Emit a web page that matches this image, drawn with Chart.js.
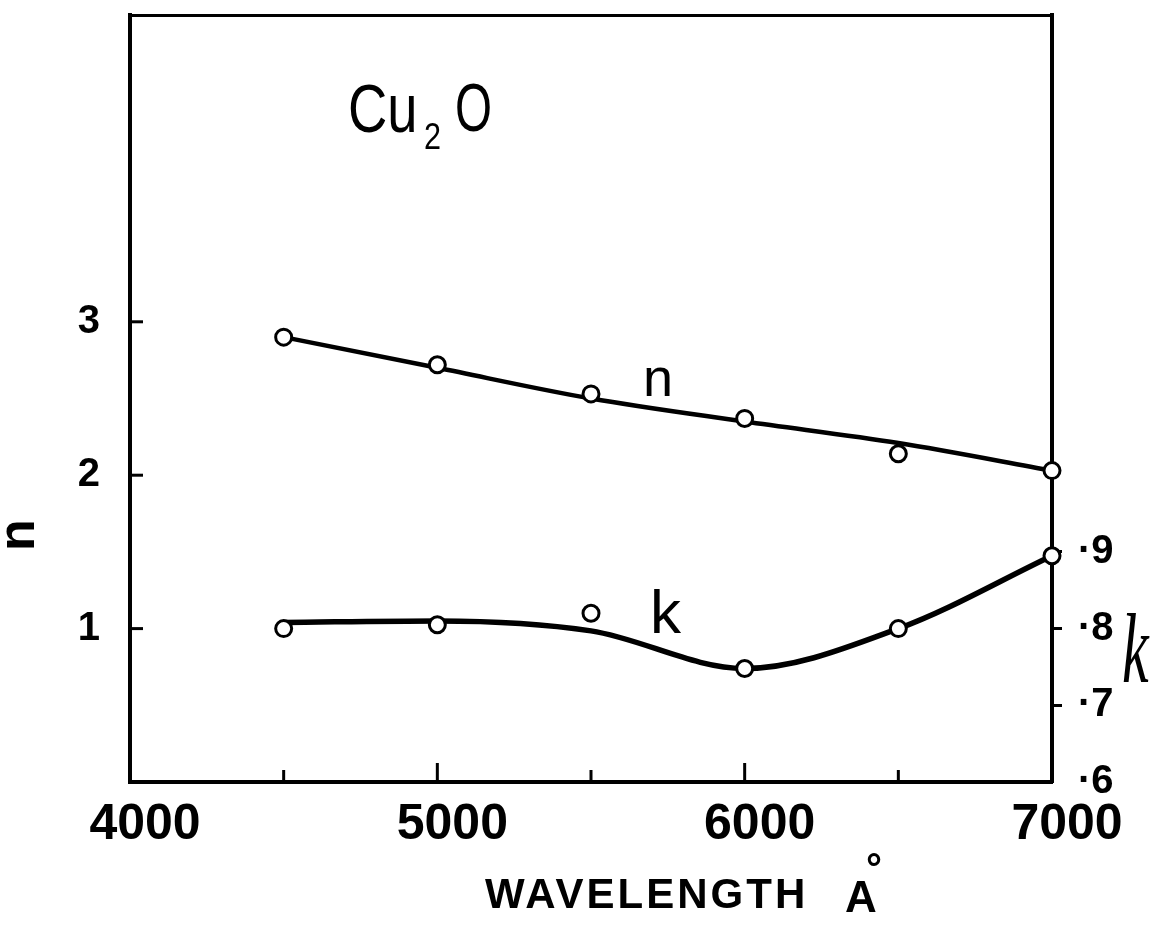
<!DOCTYPE html>
<html>
<head>
<meta charset="utf-8">
<script src="https://cdn.jsdelivr.net/npm/chart.js@4.4.1/dist/chart.umd.min.js"></script>
<style>
  html, body { margin: 0; padding: 0; background: #fff; }
  #wrap { width: 1165px; height: 940px; position: relative; }
</style>
</head>
<body>
<div id="wrap"><canvas id="myChart"></canvas></div>
<script>
// Cu2O : n and k against wavelength (Angstrom)
const wavelengths = [4500, 5000, 5500, 6000, 6500, 7000];
const nMeasured = [2.90, 2.72, 2.53, 2.37, 2.14, 2.03];
const kMeasured = [0.800, 0.805, 0.820, 0.748, 0.800, 0.895];
// the smooth curves drawn through the points
const nCurve = [2.90, 2.70, 2.50, 2.35, 2.21, 2.03];
const kCurve = [0.808, 0.810, 0.797, 0.748, 0.800, 0.895];

const xTickLabels = [4000, 5000, 6000, 7000];
const nTickLabels = [1, 2, 3];
const kTickLabels = [0.6, 0.7, 0.8, 0.9];

const toPoints = ys => wavelengths.map((w, i) => ({x: w, y: ys[i]}));
const near = (list, v) => list.some(t => Math.abs(t - v) < 1e-6);

const FAMILY = '"Liberation Sans", Arial, sans-serif';

const circle = {
    showLine: false,
    pointRadius: 8,
    pointBorderWidth: 3,
    pointBorderColor: '#000',
    pointBackgroundColor: '#fff',
    order: 0,
    clip: false
};
const curve = {
    showLine: true,
    pointRadius: 0,
    borderColor: '#000',
    cubicInterpolationMode: 'monotone',
    order: 1,
    clip: false
};

// fixed box sizes so the frame sits where the drawing has it
const fixSize = (w, h) => s => {
    if (w !== null) s.width = w;
    if (h !== null) s.height = h;
    s.paddingTop = 0;
    s.paddingBottom = 0;
    s.paddingLeft = 0;
    s.paddingRight = 0;
};

// short tick marks that point into the plot (bottom and left axes)
const inwardTicks = {
    id: 'inwardTicks',
    beforeDatasetsDraw(chart) {
        const {ctx, chartArea, scales} = chart;
        ctx.save();
        ctx.strokeStyle = '#000';
        ctx.lineWidth = 3;
        scales.x.ticks.forEach(t => {
            if (t.value <= 4000 || t.value >= 7000) return;
            const px = scales.x.getPixelForValue(t.value);
            const len = t.value % 1000 === 0 ? 19 : 12;
            ctx.beginPath();
            ctx.moveTo(px, chartArea.bottom);
            ctx.lineTo(px, chartArea.bottom - len);
            ctx.stroke();
        });
        nTickLabels.forEach(v => {
            const py = scales.y.getPixelForValue(v);
            ctx.beginPath();
            ctx.moveTo(chartArea.left, py);
            ctx.lineTo(chartArea.left + 13, py);
            ctx.stroke();
        });
        ctx.restore();
    }
};

function drawText(ctx, str, x, y, font, sx) {
    ctx.save();
    ctx.font = font;
    ctx.translate(x, y);
    ctx.scale(sx || 1, 1);
    ctx.fillText(str, 0, 0);
    ctx.restore();
}

// hand lettering: compound name, curve names, axis titles
const lettering = {
    id: 'lettering',
    afterDraw(chart) {
        const ctx = chart.ctx;
        ctx.save();
        ctx.fillStyle = '#000';
        ctx.textAlign = 'left';
        ctx.textBaseline = 'alphabetic';

        drawText(ctx, 'Cu', 348, 132, '68px ' + FAMILY, 0.8);
        drawText(ctx, '2', 424, 149, '36px ' + FAMILY, 0.85);
        drawText(ctx, 'O', 455, 131, '68px ' + FAMILY, 0.7);

        drawText(ctx, 'n', 643, 396, '54px ' + FAMILY);
        drawText(ctx, 'k', 650, 633, '62px ' + FAMILY);

        drawText(ctx, 'k', 1122, 682, 'italic 100px "Liberation Serif", serif', 0.6);

        ctx.save();
        ctx.letterSpacing = '3px';
        drawText(ctx, 'WAVELENGTH', 485, 908, 'bold 42px ' + FAMILY);
        ctx.restore();
        drawText(ctx, 'A', 845, 912, 'bold 44px ' + FAMILY);
        drawText(ctx, '\u00b0', 866, 882, 'bold 40px ' + FAMILY);

        ctx.save();
        ctx.translate(20, 535);
        ctx.rotate(-Math.PI / 2);
        ctx.textAlign = 'center';
        ctx.textBaseline = 'middle';
        ctx.font = 'bold 52px ' + FAMILY;
        ctx.fillText('n', 0, 0);
        ctx.restore();

        ctx.restore();
    }
};

const data = {
    datasets: [
        Object.assign({label: 'n', data: toPoints(nMeasured), yAxisID: 'y'}, circle),
        Object.assign({label: 'k', data: toPoints(kMeasured), yAxisID: 'yk'}, circle),
        Object.assign({label: 'n curve', data: toPoints(nCurve), yAxisID: 'y', borderWidth: 4.5}, curve),
        Object.assign({label: 'k curve', data: toPoints(kCurve), yAxisID: 'yk', borderWidth: 5.5}, curve)
    ]
};

const config = {
    type: 'scatter',
    data: data,
    options: {
        responsive: true,
        maintainAspectRatio: false,
        animation: false,
        layout: {padding: 0},
        plugins: {
            legend: {display: false},
            tooltip: {enabled: false}
        },
        scales: {
            x: {
                type: 'linear',
                position: 'bottom',
                min: 4000,
                max: 7000,
                afterFit: fixSize(null, 158),
                border: {color: '#000', width: 4},
                grid: {display: false},
                ticks: {
                    stepSize: 500,
                    autoSkip: false,
                    maxRotation: 0,
                    padding: 5,
                    labelOffset: 15,
                    color: '#000',
                    font: {family: FAMILY, size: 50, weight: 'bold'},
                    callback: v => xTickLabels.includes(v) ? String(v) : ''
                }
            },
            xTop: {
                type: 'linear',
                position: 'top',
                axis: 'x',
                min: 4000,
                max: 7000,
                afterFit: fixSize(null, 15),
                border: {color: '#000', width: 3},
                grid: {display: false},
                ticks: {display: false}
            },
            y: {
                type: 'linear',
                position: 'left',
                min: 0,
                max: 5,
                afterFit: fixSize(130, null),
                border: {color: '#000', width: 4},
                grid: {display: false},
                ticks: {
                    stepSize: 1,
                    padding: 22,
                    color: '#000',
                    font: {family: FAMILY, size: 40, weight: 'bold'},
                    callback: v => nTickLabels.includes(v) ? String(v) : ''
                }
            },
            yk: {
                type: 'linear',
                position: 'right',
                min: 0.6,
                max: 1.6,
                afterFit: fixSize(113, null),
                border: {color: '#000', width: 4},
                grid: {
                    drawOnChartArea: false,
                    drawTicks: true,
                    tickLength: 10,
                    tickWidth: 3,
                    tickColor: c => (c.tick && near([0.7, 0.8, 0.9], c.tick.value)) ? '#000' : 'rgba(0,0,0,0)'
                },
                ticks: {
                    stepSize: 0.1,
                    padding: 16,
                    color: '#000',
                    font: {family: FAMILY, size: 40, weight: 'bold'},
                    callback: v => near(kTickLabels, v) ? '\u00b7' + Math.round(v * 10) : ''
                }
            }
        }
    },
    plugins: [inwardTicks, lettering]
};

const myChart = new Chart(document.getElementById('myChart'), config);
</script>
</body>
</html>
